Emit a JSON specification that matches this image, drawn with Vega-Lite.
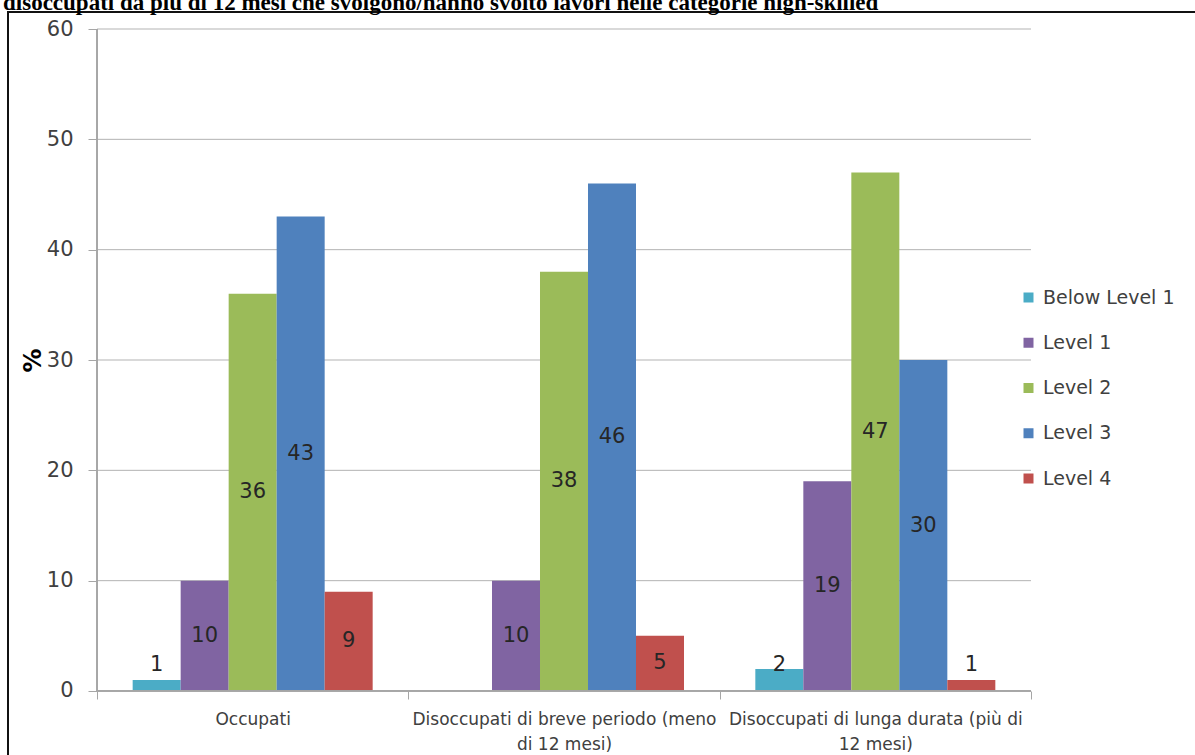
{
  "$schema": "https://vega.github.io/schema/vega-lite/v6.json",
  "width": 1197,
  "height": 753,
  "autosize": {"type": "none"},
  "padding": {"left": 8, "top": 12, "right": -10, "bottom": -10},
  "background": "white",
  "title": {
    "text": "disoccupati da più di 12 mesi che svolgono/hanno svolto lavori nelle categorie high-skilled",
    "font": "Liberation Serif",
    "fontSize": 23,
    "fontWeight": "bold",
    "color": "black",
    "anchor": "start",
    "frame": "group",
    "dx": -5,
    "offset": -3
  },
  "datasets": {
    "bars": [
      {"category": "Occupati", "level": "Below Level 1", "value": 1},
      {"category": "Occupati", "level": "Level 1", "value": 10},
      {"category": "Occupati", "level": "Level 2", "value": 36},
      {"category": "Occupati", "level": "Level 3", "value": 43},
      {"category": "Occupati", "level": "Level 4", "value": 9},
      {"category": "Disoccupati di breve periodo (meno di 12 mesi)", "level": "Level 1", "value": 10},
      {"category": "Disoccupati di breve periodo (meno di 12 mesi)", "level": "Level 2", "value": 38},
      {"category": "Disoccupati di breve periodo (meno di 12 mesi)", "level": "Level 3", "value": 46},
      {"category": "Disoccupati di breve periodo (meno di 12 mesi)", "level": "Level 4", "value": 5},
      {"category": "Disoccupati di lunga durata (più di 12 mesi)", "level": "Below Level 1", "value": 2},
      {"category": "Disoccupati di lunga durata (più di 12 mesi)", "level": "Level 1", "value": 19},
      {"category": "Disoccupati di lunga durata (più di 12 mesi)", "level": "Level 2", "value": 47},
      {"category": "Disoccupati di lunga durata (più di 12 mesi)", "level": "Level 3", "value": 30},
      {"category": "Disoccupati di lunga durata (più di 12 mesi)", "level": "Level 4", "value": 1}
    ],
    "grid": [{"g": 10}, {"g": 20}, {"g": 30}, {"g": 40}, {"g": 50}, {"g": 60}]
  },
  "layer": [
    {
      "data": {"name": "grid"},
      "mark": {"type": "rule", "color": "#b3b3b3", "strokeWidth": 1},
      "encoding": {
        "y": {"field": "g", "type": "quantitative"},
        "x": {"datum": "Occupati", "type": "nominal", "bandPosition": 0},
        "x2": {"datum": "Disoccupati di lunga durata (più di 12 mesi)", "bandPosition": 1}
      }
    },
    {
      "data": {"name": "bars"},
      "mark": {"type": "bar"},
      "encoding": {
        "x": {
          "field": "category",
          "type": "nominal",
          "scale": {
            "domain": ["Occupati", "Disoccupati di breve periodo (meno di 12 mesi)", "Disoccupati di lunga durata (più di 12 mesi)"],
            "paddingInner": 0, "paddingOuter": 0.4224, "align": 0.3384
          },
          "axis": {
            "title": null,
            "labelAngle": 0,
            "labelAlign": "center",
            "offset": -74,
            "domain": false,
            "tickBand": "extent",
            "tickColor": "#a6a6a6",
            "tickSize": 8,
            "labelPadding": 12,
            "labelFont": "DejaVu Sans",
            "labelFontSize": 17,
            "labelColor": "#404040",
            "labelLineHeight": 25,
            "labelBaseline": "top",
            "labelLimit": 0,
            "labelExpr": "datum.value == 'Disoccupati di breve periodo (meno di 12 mesi)' ? ['Disoccupati di breve periodo (meno', 'di 12 mesi)'] : datum.value == 'Disoccupati di lunga durata (più di 12 mesi)' ? ['Disoccupati di lunga durata (più di', '12 mesi)'] : datum.value"
          }
        },
        "xOffset": {
          "field": "level",
          "type": "nominal",
          "scale": {
            "domain": ["Below Level 1", "Level 1", "Level 2", "Level 3", "Level 4"],
            "paddingInner": 0, "paddingOuter": 0.743
          }
        },
        "y": {
          "field": "value",
          "type": "quantitative",
          "scale": {"domain": [-6.707, 61.541], "nice": false, "zero": false},
          "axis": {
            "title": "%",
            "titleFont": "DejaVu Sans",
            "titleFontSize": 24,
            "titleFontWeight": "bold",
            "titleColor": "black",
            "titleX": -52,
            "titleY": 348,
            "offset": -89,
            "domain": false,
            "values": [0, 10, 20, 30, 40, 50, 60],
            "grid": false,
            "tickColor": "#a6a6a6",
            "tickSize": 9,
            "labelPadding": 15,
            "labelFont": "DejaVu Sans",
            "labelFontSize": 21,
            "labelColor": "#404040"
          }
        },
        "y2": {"datum": 0},
        "color": {
          "field": "level",
          "type": "nominal",
          "scale": {
            "domain": ["Below Level 1", "Level 1", "Level 2", "Level 3", "Level 4"],
            "range": ["#4BACC6", "#8064A2", "#9BBB59", "#4F81BD", "#C0504D"]
          },
          "legend": {
            "title": null,
            "orient": "none",
            "legendX": 1011,
            "legendY": 276,
            "symbolType": "square",
            "symbolSize": 100,
            "symbolStrokeWidth": 0,
            "labelFont": "DejaVu Sans",
            "labelFontSize": 19,
            "labelColor": "#404040",
            "labelOffset": 5,
            "rowPadding": 25.25
          }
        }
      }
    },
    {
      "data": {"name": "grid"},
      "mark": {"type": "rule", "color": "#a6a6a6", "strokeWidth": 1},
      "encoding": {
        "x": {"datum": "Occupati", "type": "nominal", "bandPosition": 0},
        "y": {"datum": 0, "type": "quantitative"},
        "y2": {"datum": 60}
      }
    },
    {
      "data": {"name": "grid"},
      "mark": {"type": "rule", "color": "#a6a6a6", "strokeWidth": 1},
      "encoding": {
        "y": {"datum": 0, "type": "quantitative"},
        "x": {"datum": "Occupati", "type": "nominal", "bandPosition": 0},
        "x2": {"datum": "Disoccupati di lunga durata (più di 12 mesi)", "bandPosition": 1}
      }
    },
    {
      "data": {"name": "bars"},
      "transform": [{"calculate": "max(datum.value / 2, 2.4)", "as": "labelPos"}],
      "mark": {"type": "text", "font": "DejaVu Sans", "fontSize": 21, "color": "#262626", "baseline": "middle"},
      "encoding": {
        "x": {"field": "category", "type": "nominal"},
        "xOffset": {"field": "level", "type": "nominal"},
        "y": {"field": "labelPos", "type": "quantitative"},
        "text": {"field": "value", "type": "quantitative"}
      }
    }
  ],
  "config": {"view": {"stroke": "#111111", "strokeWidth": 2}}
}
